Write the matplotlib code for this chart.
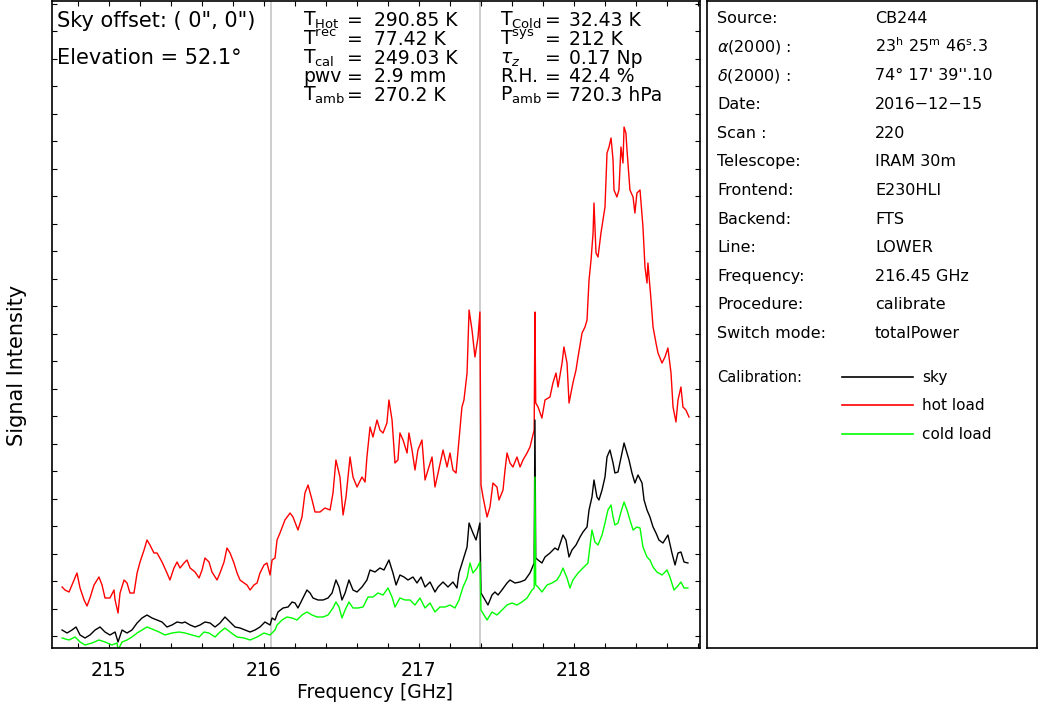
import numpy as np
import matplotlib
matplotlib.use("Agg")
import matplotlib.pyplot as plt
from matplotlib.ticker import MultipleLocator, FixedLocator
from matplotlib.lines import Line2D

plt.rcParams['font.family'] = ['DejaVu Sans']
plt.rcParams['mathtext.fontset'] = 'dejavusans'

# ---------------- data (frequency [GHz], signal [arbitrary units]) ----------------
hot_load = [
    (214.699, 61), (214.718, 58), (214.744, 56), (214.776, 68), (214.795, 75), (214.815, 60),
    (214.841, 48), (214.860, 42), (214.879, 50), (214.905, 63), (214.937, 71), (214.957, 63),
    (214.976, 50), (215.008, 50), (215.034, 58), (215.041, 48), (215.060, 35), (215.073, 55),
    (215.099, 68), (215.118, 65), (215.137, 55), (215.163, 55), (215.183, 75), (215.202, 86),
    (215.228, 98), (215.247, 108), (215.266, 103), (215.292, 95), (215.312, 95), (215.344, 86),
    (215.376, 75), (215.395, 68), (215.421, 80), (215.441, 86), (215.460, 80), (215.486, 85),
    (215.505, 88), (215.525, 80), (215.557, 76), (215.583, 70), (215.602, 78), (215.621, 90),
    (215.647, 86), (215.666, 76), (215.699, 68), (215.718, 75), (215.744, 86), (215.763, 100),
    (215.783, 95), (215.808, 85), (215.828, 75), (215.847, 68), (215.873, 65), (215.892, 63),
    (215.912, 58), (215.937, 63), (215.957, 65), (215.976, 75), (216.002, 83), (216.021, 85),
    (216.041, 73), (216.054, 88), (216.073, 90), (216.086, 108), (216.105, 115), (216.137, 128),
    (216.170, 135), (216.189, 131), (216.221, 118), (216.247, 131), (216.266, 155), (216.286, 163),
    (216.312, 148), (216.331, 136), (216.363, 136), (216.395, 140), (216.428, 138), (216.447, 155),
    (216.466, 188), (216.492, 171), (216.512, 133), (216.531, 151), (216.557, 191), (216.576, 171),
    (216.602, 161), (216.634, 171), (216.654, 166), (216.666, 191), (216.686, 221), (216.705, 211),
    (216.731, 228), (216.750, 218), (216.770, 215), (216.795, 225), (216.808, 248), (216.828, 228),
    (216.847, 185), (216.866, 188), (216.879, 215), (216.899, 208), (216.925, 195), (216.937, 215),
    (216.957, 198), (216.976, 178), (216.995, 198), (217.021, 208), (217.041, 168), (217.060, 178),
    (217.086, 191), (217.105, 161), (217.125, 175), (217.157, 198), (217.183, 181), (217.202, 195),
    (217.221, 178), (217.241, 175), (217.254, 198), (217.279, 241), (217.292, 248), (217.312, 275),
    (217.325, 338), (217.344, 318), (217.363, 291), (217.383, 311), (217.395, 336), (217.402, 163),
    (217.415, 151), (217.441, 131), (217.460, 141), (217.479, 165), (217.505, 161), (217.518, 148),
    (217.544, 158), (217.557, 178), (217.570, 195), (217.589, 185), (217.608, 181), (217.634, 191),
    (217.654, 181), (217.673, 188), (217.699, 195), (217.718, 201), (217.745, 218), (217.750, 336),
    (217.755, 245), (217.770, 241), (217.795, 230), (217.815, 248), (217.847, 251), (217.866, 265),
    (217.886, 275), (217.899, 261), (217.925, 285), (217.937, 301), (217.957, 285), (217.970, 245),
    (217.995, 265), (218.015, 278), (218.028, 291), (218.054, 315), (218.073, 321), (218.086, 328),
    (218.099, 368), (218.112, 388), (218.125, 415), (218.131, 445), (218.144, 395), (218.157, 391),
    (218.176, 415), (218.189, 428), (218.202, 441), (218.215, 495), (218.228, 501), (218.241, 510),
    (218.254, 488), (218.260, 458), (218.279, 451), (218.292, 458), (218.305, 501), (218.318, 485),
    (218.325, 521), (218.337, 515), (218.344, 498), (218.363, 458), (218.383, 451), (218.395, 435),
    (218.408, 455), (218.428, 458), (218.447, 421), (218.460, 381), (218.473, 365), (218.479, 385),
    (218.499, 348), (218.512, 321), (218.531, 305), (218.544, 295), (218.570, 285), (218.589, 291),
    (218.608, 300), (218.628, 275), (218.641, 241), (218.660, 226), (218.673, 248), (218.692, 261),
    (218.705, 241), (218.724, 238), (218.744, 231),
]

sky = [
    (214.699, 18), (214.731, 15), (214.763, 18), (214.789, 21), (214.815, 13), (214.847, 10),
    (214.879, 13), (214.912, 18), (214.944, 21), (214.976, 16), (215.008, 13), (215.041, 16),
    (215.060, 6), (215.086, 18), (215.118, 15), (215.150, 18), (215.183, 25), (215.215, 30),
    (215.247, 33), (215.279, 30), (215.312, 28), (215.344, 26), (215.376, 21), (215.408, 23),
    (215.441, 26), (215.473, 25), (215.492, 26), (215.525, 23), (215.557, 21), (215.589, 23),
    (215.621, 26), (215.654, 25), (215.686, 21), (215.718, 25), (215.750, 31), (215.783, 26),
    (215.815, 21), (215.847, 20), (215.879, 18), (215.912, 16), (215.944, 18), (215.976, 21),
    (216.008, 26), (216.041, 23), (216.054, 30), (216.073, 28), (216.092, 36), (216.125, 40),
    (216.157, 41), (216.183, 46), (216.202, 45), (216.221, 40), (216.247, 48), (216.279, 58),
    (216.299, 55), (216.318, 50), (216.350, 48), (216.383, 48), (216.415, 50), (216.441, 55),
    (216.466, 68), (216.486, 61), (216.505, 48), (216.525, 55), (216.550, 68), (216.576, 58),
    (216.602, 56), (216.634, 61), (216.666, 68), (216.686, 78), (216.718, 76), (216.750, 80),
    (216.776, 78), (216.808, 88), (216.834, 75), (216.854, 63), (216.879, 73), (216.905, 71),
    (216.931, 68), (216.963, 71), (216.989, 65), (217.015, 71), (217.041, 61), (217.073, 66),
    (217.105, 56), (217.125, 61), (217.157, 66), (217.189, 61), (217.221, 66), (217.247, 60),
    (217.260, 75), (217.286, 88), (217.312, 101), (217.325, 125), (217.350, 115), (217.370, 108),
    (217.395, 125), (217.402, 55), (217.428, 48), (217.447, 43), (217.473, 53), (217.492, 56),
    (217.512, 53), (217.537, 58), (217.570, 65), (217.589, 68), (217.621, 65), (217.654, 66),
    (217.686, 68), (217.718, 75), (217.745, 85), (217.750, 228), (217.755, 90), (217.770, 88),
    (217.795, 85), (217.815, 91), (217.847, 95), (217.879, 100), (217.899, 98), (217.931, 113),
    (217.950, 108), (217.970, 91), (217.989, 98), (218.015, 103), (218.041, 111), (218.060, 116),
    (218.086, 121), (218.099, 138), (218.118, 151), (218.131, 168), (218.150, 151), (218.163, 148),
    (218.183, 158), (218.202, 171), (218.215, 191), (218.234, 198), (218.254, 185), (218.266, 175),
    (218.286, 176), (218.312, 195), (218.325, 205), (218.344, 195), (218.357, 188), (218.376, 175),
    (218.395, 165), (218.415, 173), (218.441, 165), (218.454, 148), (218.473, 138), (218.492, 131),
    (218.512, 121), (218.531, 115), (218.550, 108), (218.576, 105), (218.608, 113), (218.634, 95),
    (218.654, 83), (218.673, 95), (218.692, 96), (218.712, 86), (218.737, 85),
]

cold_load = [
    (214.699, 10), (214.744, 8), (214.783, 11), (214.815, 6), (214.847, 3), (214.892, 5),
    (214.937, 8), (214.976, 6), (215.021, 3), (215.054, 5), (215.060, -2), (215.086, 6),
    (215.118, 8), (215.150, 11), (215.183, 15), (215.215, 18), (215.247, 21), (215.279, 19),
    (215.325, 16), (215.363, 13), (215.408, 15), (215.454, 16), (215.492, 15), (215.537, 13),
    (215.583, 11), (215.615, 16), (215.647, 15), (215.686, 11), (215.718, 16), (215.750, 20),
    (215.783, 16), (215.828, 11), (215.873, 10), (215.912, 8), (215.957, 11), (216.002, 15),
    (216.041, 13), (216.073, 18), (216.086, 23), (216.118, 28), (216.150, 31), (216.183, 30),
    (216.215, 28), (216.247, 33), (216.279, 36), (216.312, 33), (216.344, 31), (216.383, 31),
    (216.415, 33), (216.447, 40), (216.466, 46), (216.486, 41), (216.505, 30), (216.525, 38),
    (216.550, 46), (216.576, 40), (216.608, 40), (216.641, 41), (216.673, 51), (216.705, 51),
    (216.737, 55), (216.770, 53), (216.802, 60), (216.828, 51), (216.847, 41), (216.879, 50),
    (216.912, 48), (216.944, 48), (216.976, 43), (217.008, 50), (217.041, 40), (217.073, 45),
    (217.105, 36), (217.137, 41), (217.170, 41), (217.202, 43), (217.234, 40), (217.260, 48),
    (217.286, 61), (217.312, 70), (217.331, 85), (217.350, 75), (217.376, 80), (217.395, 86),
    (217.402, 38), (217.441, 28), (217.473, 36), (217.505, 33), (217.537, 38), (217.570, 43),
    (217.602, 45), (217.634, 43), (217.666, 46), (217.699, 50), (217.731, 58), (217.745, 60),
    (217.750, 171), (217.755, 63), (217.770, 61), (217.795, 56), (217.828, 63), (217.860, 65),
    (217.892, 68), (217.912, 73), (217.931, 80), (217.957, 70), (217.976, 60), (217.995, 68),
    (218.028, 75), (218.060, 80), (218.092, 85), (218.118, 118), (218.137, 106), (218.157, 103),
    (218.183, 113), (218.202, 125), (218.221, 138), (218.241, 143), (218.254, 131), (218.266, 123),
    (218.286, 125), (218.305, 136), (218.325, 146), (218.344, 138), (218.363, 128), (218.383, 118),
    (218.408, 121), (218.428, 120), (218.447, 101), (218.473, 91), (218.492, 88), (218.512, 81),
    (218.537, 76), (218.570, 73), (218.602, 78), (218.621, 71), (218.647, 58), (218.666, 61),
    (218.692, 66), (218.712, 60), (218.737, 60),
]

band_edges = [216.047, 217.395]          # sub-band boundaries [GHz]
freq_ticks = [215, 216, 217, 218]
freq_range = (214.634, 218.815)
signal_range = (0, 647)

series = [
    ("hot load", hot_load, "#ff0000"),
    ("sky", sky, "#000000"),
    ("cold load", cold_load, "#00ff00"),
]

left_info = ['Sky offset: ( 0", 0")', 'Elevation = 52.1°']

col1_labels = ['T$_{\\rm Hot}$', 'T$^{\\rm rec}$', 'T$_{\\rm cal}$', 'pwv', 'T$_{\\rm amb}$']
col1_values = ['290.85 K', '77.42 K', '249.03 K', '2.9 mm', '270.2 K']
col2_labels = ['T$_{\\rm Cold}$', 'T$^{\\rm sys}$', '$\\tau_z$', 'R.H.', 'P$_{\\rm amb}$']
col2_values = ['32.43 K', '212 K', '0.17 Np', '42.4 %', '720.3 hPa']

panel_labels = ['Source:', '$\\alpha$(2000) :', '$\\delta$(2000) :', 'Date:', 'Scan :',
                'Telescope:', 'Frontend:', 'Backend:', 'Line:', 'Frequency:',
                'Procedure:', 'Switch mode:']
panel_values = ['CB244', '23$^{\\rm h}$ 25$^{\\rm m}$ 46$^{\\rm s}$.3', "74° 17' 39''.10",
                '2016−12−15', '220', 'IRAM 30m', 'E230HLI', 'FTS', 'LOWER',
                '216.45 GHz', 'calibrate', 'totalPower']
legend_order = ["sky", "hot load", "cold load"]

# ---------------- figure ----------------
W, H = 1038, 711
fig = plt.figure(figsize=(W / 100, H / 100), dpi=100)
fig.patch.set_facecolor('white')


def fx(px):
    return px / W


def fy(py):
    return 1 - py / H


ax = fig.add_axes([fx(52), fy(648), 648 / W, 647 / H])
for edge in band_edges:
    ax.axvline(edge, color='#c0c0c0', lw=1.1, zorder=1)
for name, data, color in series:
    f = [p[0] for p in data]
    v = [p[1] for p in data]
    ax.plot(f, v, color=color, lw=1.0, zorder=2)

ax.set_xlim(*freq_range)
ax.set_ylim(*signal_range)
ax.xaxis.set_major_locator(FixedLocator(freq_ticks))
ax.xaxis.set_minor_locator(MultipleLocator(0.2))
ax.set_yticks(np.arange(12, signal_range[1], 27.5))
ax.tick_params(axis='both', which='both', direction='in', top=True, right=True,
               length=3.5, width=0.8, color='black')
ax.tick_params(axis='x', which='major', labelsize=13.5, pad=9)
ax.tick_params(axis='y', labelleft=False)
for s in ax.spines.values():
    s.set_linewidth(1.2)
ax.set_xlabel('Frequency [GHz]', fontsize=13.5)
ax.xaxis.set_label_coords(0.498, -0.054)
ax.set_ylabel('Signal Intensity', fontsize=15)
ax.yaxis.set_label_coords(-0.038, 0.437)

# text in upper part of plot
fig.text(fx(57), fy(27), left_info[0], fontsize=15, va='baseline')
fig.text(fx(57), fy(64), left_info[1], fontsize=15, va='baseline')

baselines = [26, 45, 64, 82.5, 101]
for lab, val, yb in zip(col1_labels, col1_values, baselines):
    fig.text(fx(303), fy(yb), lab, fontsize=13.5, va='baseline')
    fig.text(fx(355), fy(yb), '=', fontsize=13.5, va='baseline', ha='center')
    fig.text(fx(374), fy(yb), val, fontsize=13.5, va='baseline')
for lab, val, yb in zip(col2_labels, col2_values, baselines):
    fig.text(fx(500), fy(yb), lab, fontsize=13.5, va='baseline')
    fig.text(fx(553), fy(yb), '=', fontsize=13.5, va='baseline', ha='center')
    fig.text(fx(569), fy(yb), val, fontsize=13.5, va='baseline')

# right info panel
pax = fig.add_axes([fx(707), fy(648), 330 / W, 647 / H])
pax.set_xticks([])
pax.set_yticks([])
for s in pax.spines.values():
    s.set_linewidth(1.2)

for i, (lab, val) in enumerate(zip(panel_labels, panel_values)):
    yb = 23.3 + 28.6 * i
    fig.text(fx(717), fy(yb), lab, fontsize=11.5, va='baseline')
    fig.text(fx(875), fy(yb), val, fontsize=11.5, va='baseline')

fig.text(fx(717), fy(382), 'Calibration:', fontsize=10.5, va='baseline')
colors = {name: color for name, _, color in series}
for j, name in enumerate(legend_order):
    yl = 376.5 + 28.5 * j
    fig.add_artist(Line2D([fx(842), fx(913)], [fy(yl), fy(yl)], color=colors[name],
                          lw=1.2, transform=fig.transFigure))
    fig.text(fx(922), fy(yl + 5.5), name, fontsize=11, va='baseline')

fig.savefig('out.png', dpi=100, facecolor='white')
